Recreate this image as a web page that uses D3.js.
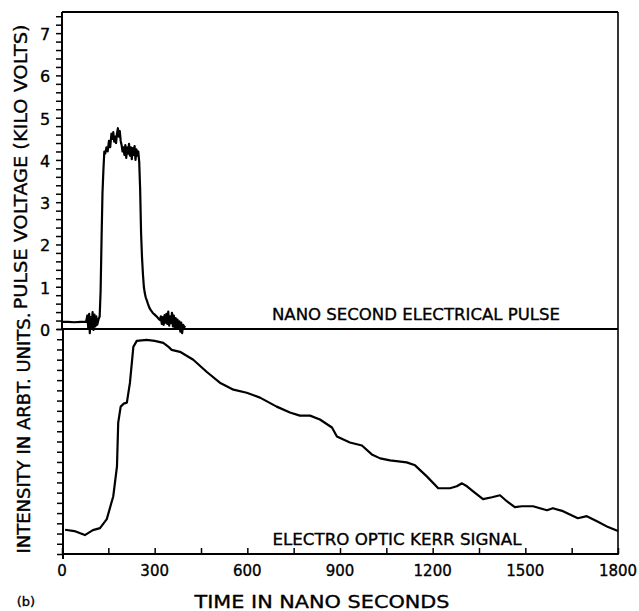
<!DOCTYPE html>
<html><head><meta charset="utf-8">
<script src="https://cdn.jsdelivr.net/npm/d3@7/dist/d3.min.js"></script>
<style>
html,body{margin:0;padding:0;background:#fff;}
svg{display:block;}
text{font-family:"DejaVu Sans",sans-serif;fill:#000;stroke:#000;stroke-width:0.35;}
</style></head>
<body>
<script>
// ---- data ----
const xTicks = [0, 300, 600, 900, 1200, 1500, 1800];
const voltTicks = [0, 1, 2, 3, 4, 5, 6, 7];
// electrical pulse: [time ns, kV]
const pulseTime = [0,20,40,60,78,82,85,88,90,93,96,99,102,105,108,111,114,118,122,125,128,131,134,137,140,144,148,152,156,160,163,166,169,172,175,178,181,184,187,190,193,196,199,202,205,208,211,214,217,220,223,226,229,232,235,238,241,244,247,250,253,256,259,262,265,268,271,274,278,283,288,294,300,306,312,317,320,323,326,329,332,335,338,341,344,347,350,353,356,359,362,365,368,371,374,377,380,383,386,389,392,396,400];
const pulseKV =   [0.17,0.17,0.16,0.17,0.17,0.32,0.02,0.36,-0.1,0.28,0.04,0.4,-0.02,0.34,0.06,0.3,0.1,0.22,0.3,0.9,2.1,3.2,3.75,4.2,4.15,4.3,4.2,4.45,4.3,4.62,4.5,4.66,4.43,4.55,4.4,4.62,4.75,4.55,4.68,4.45,4.35,4.2,4.3,4.12,4.35,4.05,4.3,4.15,4.38,4.1,4.3,4.02,4.28,4.12,4.33,4.0,4.25,4.1,4.2,3.95,3.3,2.27,1.7,1.3,1.0,0.85,0.75,0.69,0.6,0.5,0.44,0.38,0.34,0.3,0.25,0.21,0.3,0.12,0.28,0.1,0.33,0.15,0.36,0.12,0.41,0.08,0.3,0.14,0.38,0.06,0.32,0.04,0.26,0.0,0.22,0.05,0.18,-0.06,0.15,-0.1,0.1,0.05,0.04];
// Kerr signal: [time ns, arbitrary units]
const kerrTime = [10,40,74,100,123,145,166,178,182,190,200,210,220,231,242,274,300,328,345,355,382,425,468,511,555,598,641,695,738,770,803,835,874,890,932,971,1003,1030,1062,1116,1143,1181,1218,1256,1278,1295,1311,1331,1363,1392,1418,1440,1466,1489,1525,1570,1589,1622,1670,1699,1732,1768,1800];
const kerrVal  = [2.37,2.24,1.85,2.34,2.53,3.41,5.65,8.57,12.85,14.41,14.7,14.8,16.75,20.25,20.84,20.93,20.84,20.64,20.25,19.96,19.77,18.99,17.82,16.75,16.07,15.77,15.29,14.41,13.83,13.53,13.53,13.15,12.37,11.49,10.9,10.61,9.74,9.35,9.15,8.96,8.67,7.59,6.43,6.43,6.62,6.91,6.62,6.13,5.36,5.55,5.74,5.16,4.58,4.67,4.67,4.28,4.48,4.19,3.5,3.7,3.21,2.63,2.24];

const W = 639, H = 611;
const svg = d3.select("body").append("svg").attr("width", W).attr("height", H);

const x = d3.scaleLinear().domain([0, 1800]).range([62, 618]);
const yV = d3.scaleLinear().domain([0, 7.5]).range([329, 12]);
const yK = d3.scaleLinear().domain([0, 22]).range([554, 329]);

const ink = "#000";
// frame
svg.append("line").attr("x1", 62).attr("x2", 618).attr("y1", 12).attr("y2", 12).attr("stroke", ink).attr("stroke-width", 2);
svg.append("line").attr("x1", 618).attr("x2", 618).attr("y1", 12).attr("y2", 555).attr("stroke", ink).attr("stroke-width", 1.6);
svg.append("line").attr("x1", 62).attr("x2", 618).attr("y1", yV(0)).attr("y2", yV(0)).attr("stroke", ink).attr("stroke-width", 2);

// upper left axis
const gU = svg.append("g").attr("transform", "translate(62,0)")
  .call(d3.axisLeft(yV).tickValues(d3.range(0, 7.45, 0.2)).tickSize(6).tickFormat(""));
// lower left axis
const gL = svg.append("g").attr("transform", "translate(63,0)")
  .call(d3.axisLeft(yK).tickValues(d3.range(0, 22.1, 1)).tickSize(6).tickFormat(""));
// bottom axis
const gB = svg.append("g").attr("transform", "translate(0,554)")
  .call(d3.axisTop(x).tickValues(d3.range(0, 1801, 150)).tickSize(6).tickFormat(""));
[gU, gL, gB].forEach(g => {
  g.select(".domain").attr("stroke", ink).attr("stroke-width", 2);
  g.selectAll(".tick line").attr("stroke", ink).attr("stroke-width", 1.5);
});
gU.select(".domain").attr("d", "M0,12V329");
gL.select(".domain").attr("d", "M0,329V559");
gB.select(".domain").attr("d", "M62,0H618");

// tick labels
svg.append("g").selectAll("text").data(voltTicks).join("text")
  .attr("x", 45).attr("y", d => yV(d) + 7).attr("text-anchor", "middle")
  .attr("font-size", 16).text(d => d);
svg.append("g").selectAll("text").data(xTicks).join("text")
  .attr("x", d => x(d)).attr("y", 576).attr("text-anchor", "middle")
  .attr("font-size", 15).text(d => d);

// traces
const pulse = pulseTime.map((t, i) => [t, pulseKV[i]]);
const kerr = kerrTime.map((t, i) => [t, kerrVal[i]]);
svg.append("path").datum(pulse)
  .attr("d", d3.line().x(d => x(d[0])).y(d => yV(d[1])))
  .attr("fill", "none").attr("stroke", ink).attr("stroke-width", 2.2).attr("stroke-linejoin", "round");
svg.append("path").datum(kerr)
  .attr("d", d3.line().x(d => x(d[0])).y(d => yK(d[1])))
  .attr("fill", "none").attr("stroke", ink).attr("stroke-width", 2.2).attr("stroke-linejoin", "round");

// labels
function label(txt, xx, yy, size, len, rot) {
  const t = svg.append("text").attr("font-size", size).attr("text-anchor", "middle")
    .attr("textLength", len).attr("lengthAdjust", "spacingAndGlyphs").text(txt);
  if (rot) t.attr("transform", `translate(${xx},${yy}) rotate(-90)`);
  else t.attr("x", xx).attr("y", yy);
}
label("NANO SECOND ELECTRICAL PULSE", 416, 320, 16, 288, false);
label("ELECTRO OPTIC KERR SIGNAL", 397, 545, 16, 249, false);
label("TIME IN NANO SECONDS", 322, 608, 18, 255, false);
label("PULSE VOLTAGE (KILO VOLTS)", 27, 167, 17, 285, true);
label("INTENSITY IN ARBT. UNITS.", 30, 433, 17, 241, true);
svg.append("text").attr("x", 26).attr("y", 606).attr("font-size", 13).attr("text-anchor", "middle").text("(b)");
</script>
</body></html>
